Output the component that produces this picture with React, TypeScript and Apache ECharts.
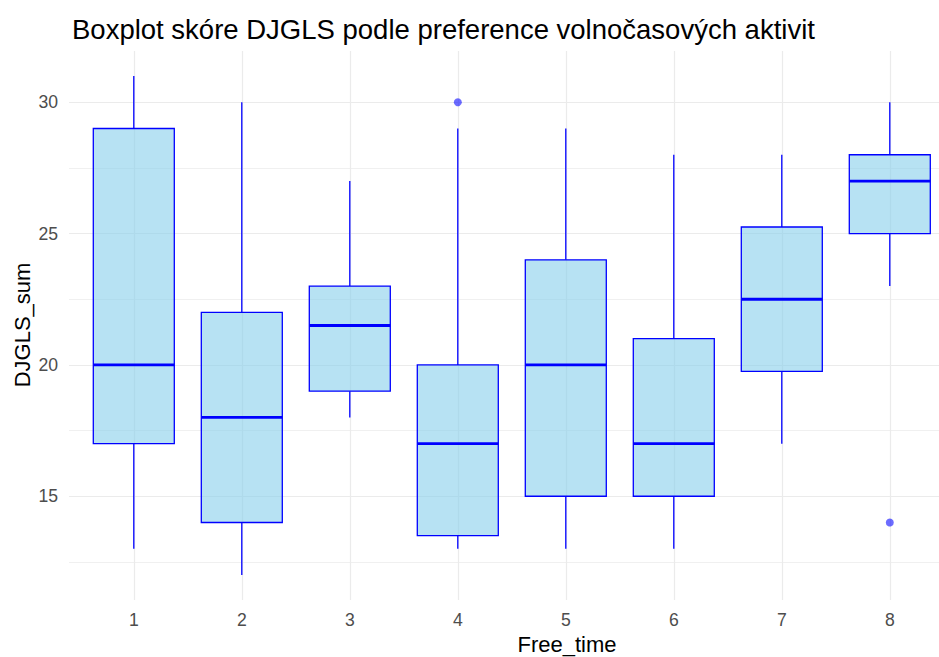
import React, { useEffect, useRef } from "react";
import * as echarts from "echarts";

const categories = [1, 2, 3, 4, 5, 6, 7, 8];
const whiskerLow = [13, 12, 18, 13, 13, 13, 17, 23];
const q1 = [17, 14, 19, 13.5, 15, 15, 19.75, 25];
const median = [20, 18, 21.5, 17, 20, 17, 22.5, 27];
const q3 = [29, 22, 23, 20, 24, 21, 25.25, 28];
const whiskerHigh = [31, 30, 27, 29, 29, 28, 28, 30];
const outliers: [number, number][] = [
  [4, 30],
  [8, 14],
];
const yMajorTicks = [15, 20, 25, 30];
const yMinorTicks = [12.5, 17.5, 22.5, 27.5];

const FONT = "'Liberation Sans', Arial, sans-serif";
const BOX_HALF = 0.375;

export default function App() {
  const ref = useRef<HTMLDivElement>(null);
  useEffect(() => {
    if (!ref.current) return;
    const chart = echarts.init(ref.current, null, { renderer: "svg" });
    const boxData = categories.map((c, i) => [
      c,
      whiskerLow[i],
      q1[i],
      median[i],
      q3[i],
      whiskerHigh[i],
    ]);
    const stroke = "#0000FF";
    chart.setOption({
      animation: false,
      backgroundColor: "#FFFFFF",
      title: {
        text: "Boxplot skóre DJGLS podle preference volnočasových aktivit",
        left: 67,
        top: 10,
        textStyle: { fontFamily: FONT, fontWeight: "normal", fontSize: 27.5, color: "#000000" },
      },
      grid: { left: 69, top: 51, right: 0, height: 549, containLabel: false },
      xAxis: {
        type: "value",
        min: 0.4,
        max: 8.4556,
        axisLine: { show: false },
        axisTick: { show: false, customValues: categories },
        axisLabel: {
          customValues: categories,
          color: "#4D4D4D",
          fontFamily: FONT,
          fontSize: 17.6,
          margin: 11,
        },
        splitLine: { show: true, lineStyle: { color: "#EBEBEB", width: 1.2 } },
      },
      yAxis: [
        {
          type: "value",
          min: 11.05,
          max: 31.95,
          axisLine: { show: false },
          axisTick: { show: false, customValues: yMajorTicks },
          axisLabel: {
            customValues: yMajorTicks,
            color: "#4D4D4D",
            fontFamily: FONT,
            fontSize: 17.6,
            margin: 11,
          },
          splitLine: { show: true, lineStyle: { color: "#EBEBEB", width: 1.2 } },
        },
        {
          type: "value",
          min: 11.05,
          max: 31.95,
          position: "left",
          axisLine: { show: false },
          axisTick: { show: false, customValues: yMinorTicks },
          axisLabel: { show: false, customValues: yMinorTicks },
          splitLine: { show: true, lineStyle: { color: "#F0F0F0", width: 1 } },
        },
      ],
      graphic: [
        {
          type: "text",
          x: 567,
          y: 644,
          style: {
            text: "Free_time",
            fontFamily: FONT,
            fontSize: 22,
            fill: "#000000",
            align: "center",
            verticalAlign: "middle",
          },
        },
        {
          type: "text",
          x: 22,
          y: 325,
          rotation: Math.PI / 2,
          style: {
            text: "DJGLS_sum",
            fontFamily: FONT,
            fontSize: 22,
            fill: "#000000",
            align: "center",
            verticalAlign: "middle",
          },
        },
      ],
      series: [
        {
          type: "custom",
          data: boxData,
          encode: { x: 0, y: [1, 2, 3, 4, 5] },
          renderItem: (params: any, api: any) => {
            const x = api.value(0);
            const lo = api.value(1);
            const b1 = api.value(2);
            const md = api.value(3);
            const b3 = api.value(4);
            const hi = api.value(5);
            const pHi = api.coord([x, hi]);
            const pB3 = api.coord([x, b3]);
            const pB1 = api.coord([x, b1]);
            const pLo = api.coord([x, lo]);
            const left = api.coord([x - BOX_HALF, b3]);
            const right = api.coord([x + BOX_HALF, b1]);
            const mdL = api.coord([x - BOX_HALF, md]);
            const mdR = api.coord([x + BOX_HALF, md]);
            return {
              type: "group",
              children: [
                {
                  type: "line",
                  shape: { x1: pHi[0], y1: pHi[1], x2: pB3[0], y2: pB3[1] },
                  style: { stroke, lineWidth: 1.3 },
                },
                {
                  type: "line",
                  shape: { x1: pB1[0], y1: pB1[1], x2: pLo[0], y2: pLo[1] },
                  style: { stroke, lineWidth: 1.3 },
                },
                {
                  type: "rect",
                  shape: {
                    x: left[0],
                    y: left[1],
                    width: right[0] - left[0],
                    height: right[1] - left[1],
                  },
                  style: { fill: "rgba(135,206,235,0.6)", stroke, lineWidth: 1.3 },
                },
                {
                  type: "line",
                  shape: { x1: mdL[0], y1: mdL[1], x2: mdR[0], y2: mdR[1] },
                  style: { stroke, lineWidth: 2.8 },
                },
              ],
            };
          },
          z: 2,
        },
        {
          type: "scatter",
          data: outliers,
          symbolSize: 8,
          itemStyle: { color: "rgba(0,0,255,0.72)" },
          z: 3,
        },
      ],
    });
    return () => chart.dispose();
  }, []);
  return (
    <div
      ref={ref}
      style={{ position: "absolute", left: 0, top: 0, width: 939, height: 657 }}
    />
  );
}
